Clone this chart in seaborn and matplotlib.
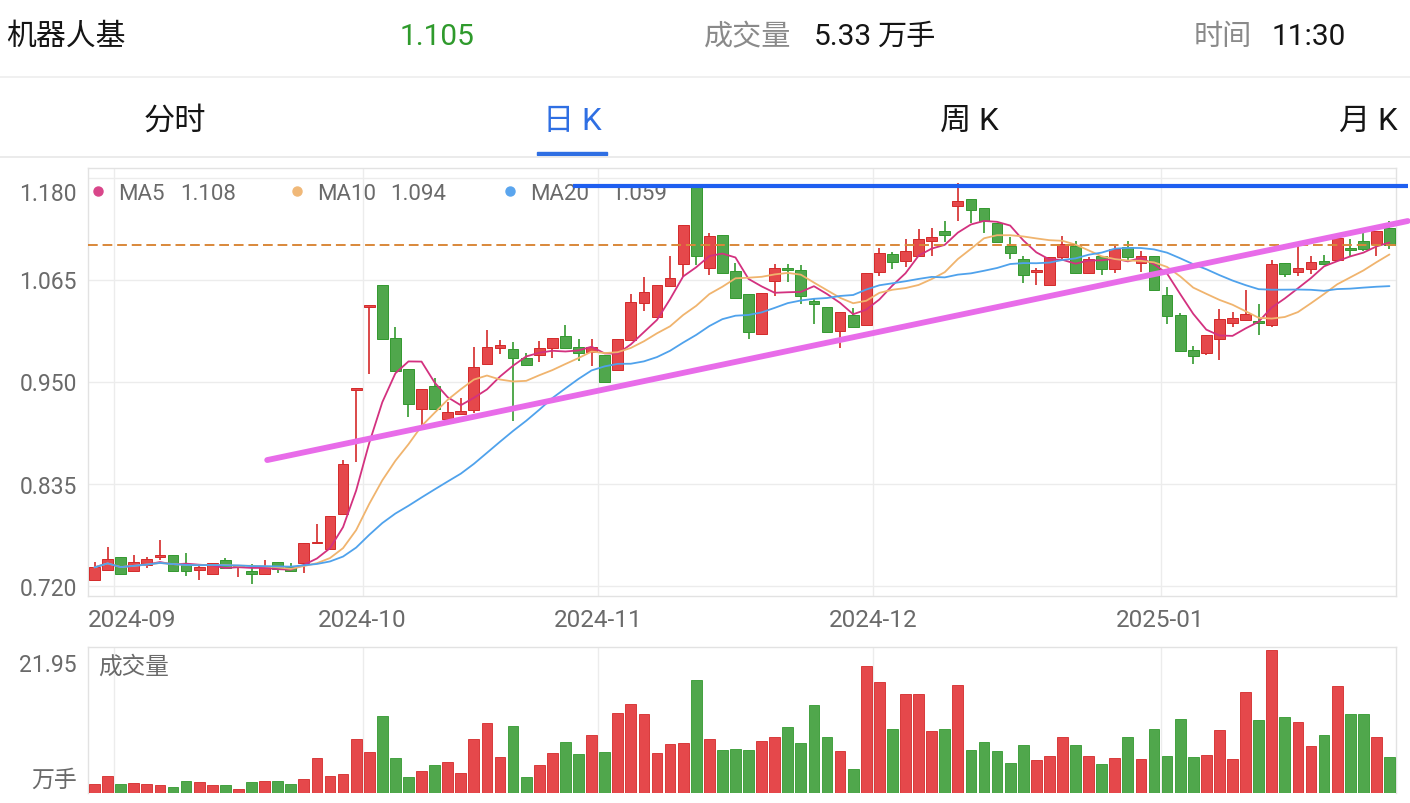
import numpy as np
import pandas as pd
import matplotlib
matplotlib.use("Agg")
import matplotlib.pyplot as plt
import seaborn as sns
from matplotlib.lines import Line2D
from matplotlib.patches import Rectangle

# ---------------- data ----------------
opens = [0.727, 0.738, 0.753, 0.737, 0.744, 0.753, 0.755, 0.744, 0.738, 0.734,
         0.749, 0.741, 0.737, 0.734, 0.747, 0.741, 0.746, 0.768, 0.762, 0.801,
         0.941, 1.035, 1.059, 1.000, 0.965, 0.920, 0.946, 0.908, 0.914, 0.918,
         0.970, 0.988, 0.987, 0.977, 0.980, 0.988, 1.002, 0.990, 0.984, 0.980,
         0.964, 0.997, 1.039, 1.023, 1.058, 1.083, 1.170, 1.078, 1.116, 1.075,
         1.049, 1.004, 1.064, 1.079, 1.076, 1.041, 1.035, 1.007, 1.026, 1.014,
         1.074, 1.094, 1.086, 1.092, 1.109, 1.120, 1.148, 1.156, 1.146, 1.129,
         1.103, 1.089, 1.074, 1.059, 1.091, 1.103, 1.073, 1.092, 1.077, 1.102,
         1.084, 1.092, 1.048, 1.025, 0.986, 0.983, 0.998, 1.017, 1.020, 1.019,
         1.014, 1.084, 1.074, 1.077, 1.086, 1.088, 1.101, 1.109, 1.106, 1.124]
highs = [0.747, 0.764, 0.753, 0.755, 0.753, 0.772, 0.755, 0.757, 0.745, 0.746,
         0.752, 0.744, 0.745, 0.749, 0.747, 0.746, 0.769, 0.790, 0.799, 0.862,
         0.943, 1.037, 1.059, 1.012, 0.965, 0.942, 0.955, 0.927, 0.932, 0.989,
         1.009, 0.997, 0.995, 0.983, 0.996, 1.000, 1.014, 0.998, 0.998, 0.980,
         0.999, 1.049, 1.068, 1.059, 1.092, 1.127, 1.170, 1.118, 1.116, 1.084,
         1.049, 1.050, 1.083, 1.083, 1.082, 1.045, 1.035, 1.029, 1.033, 1.073,
         1.101, 1.097, 1.111, 1.122, 1.124, 1.132, 1.174, 1.156, 1.146, 1.129,
         1.113, 1.092, 1.079, 1.091, 1.115, 1.109, 1.091, 1.092, 1.103, 1.109,
         1.098, 1.092, 1.057, 1.028, 0.991, 1.003, 1.032, 1.029, 1.054, 1.038,
         1.087, 1.084, 1.103, 1.092, 1.093, 1.112, 1.111, 1.118, 1.120, 1.131]
lows = [0.727, 0.738, 0.733, 0.737, 0.740, 0.749, 0.737, 0.731, 0.727, 0.734,
        0.740, 0.730, 0.722, 0.734, 0.735, 0.737, 0.735, 0.768, 0.762, 0.801,
        0.860, 0.959, 0.999, 0.962, 0.910, 0.901, 0.919, 0.908, 0.914, 0.915,
        0.970, 0.982, 0.906, 0.968, 0.972, 0.977, 0.988, 0.974, 0.968, 0.950,
        0.964, 0.997, 1.030, 1.023, 1.058, 1.068, 1.082, 1.071, 1.073, 1.045,
        0.999, 1.004, 1.047, 1.063, 1.038, 1.015, 1.006, 0.988, 1.012, 1.014,
        1.070, 1.077, 1.080, 1.092, 1.092, 1.108, 1.131, 1.129, 1.118, 1.108,
        1.089, 1.062, 1.059, 1.059, 1.089, 1.072, 1.072, 1.071, 1.073, 1.087,
        1.074, 1.054, 1.015, 0.985, 0.970, 0.980, 0.975, 1.012, 1.019, 1.003,
        1.012, 1.068, 1.069, 1.072, 1.083, 1.088, 1.092, 1.098, 1.092, 1.100]
closes = [0.741, 0.750, 0.733, 0.747, 0.750, 0.755, 0.737, 0.737, 0.741, 0.746,
          0.740, 0.742, 0.733, 0.741, 0.739, 0.737, 0.769, 0.769, 0.799, 0.858,
          0.943, 1.037, 0.999, 0.962, 0.925, 0.942, 0.919, 0.916, 0.917, 0.967,
          0.989, 0.992, 0.977, 0.969, 0.988, 1.000, 0.988, 0.983, 0.990, 0.950,
          0.999, 1.040, 1.052, 1.059, 1.067, 1.127, 1.092, 1.115, 1.073, 1.045,
          1.006, 1.050, 1.079, 1.076, 1.047, 1.038, 1.006, 1.029, 1.012, 1.073,
          1.095, 1.085, 1.098, 1.111, 1.113, 1.116, 1.154, 1.144, 1.131, 1.108,
          1.095, 1.071, 1.076, 1.091, 1.106, 1.073, 1.089, 1.077, 1.100, 1.091,
          1.092, 1.054, 1.024, 0.985, 0.979, 1.003, 1.021, 1.022, 1.027, 1.017,
          1.083, 1.072, 1.079, 1.085, 1.083, 1.112, 1.099, 1.100, 1.120, 1.105]
volumes = [1.38, 2.6, 1.38, 1.48, 1.33, 1.17, 0.92, 1.79, 1.63, 1.22,
           1.28, 0.61, 1.63, 1.79, 1.84, 1.38, 2.09, 5.3, 2.55, 2.9,
           8.3, 6.3, 11.8, 5.3, 2.4, 3.37, 4.3, 4.7, 3.1, 8.3,
           10.7, 5.56, 10.3, 2.4, 4.23, 6.17, 7.86, 6.0, 8.9, 6.3,
           12.2, 13.6, 12.1, 6.1, 7.45, 7.7, 17.3, 8.2, 6.6, 6.8,
           6.6, 7.96, 8.5, 10.15, 7.6, 13.5, 8.5, 6.4, 3.7, 19.5,
           17.0, 9.8, 15.15, 15.2, 9.5, 9.74, 16.5, 6.6, 7.86, 6.5,
           4.54, 7.4, 5.05, 5.7, 8.6, 7.4, 5.7, 4.5, 5.4, 8.6,
           5.26, 9.85, 5.7, 11.4, 5.56, 5.87, 9.64, 5.26, 15.5, 11.2,
           21.95, 11.7, 10.9, 7.2, 8.9, 16.4, 12.1, 12.1, 8.5, 5.46]
month_labels = ["2024-09", "2024-10", "2024-11", "2024-12", "2025-01"]
month_first_idx = [2, 21, 39, 60, 82]
price_levels = [0.720, 0.835, 0.950, 1.065, 1.180]
vol_max_label = "21.95"
last_price = 1.105
ma_windows = [5, 10, 20]
ma_names = ["MA5", "MA10", "MA20"]
ma_legend_values = ["1.108", "1.094", "1.059"]
resist_level = 1.1707
resist_x = [36.6, 100.4]
trend_x = [13.2, 100.4]
trend_y = [0.862, 1.1315]

# ---------------- style ----------------
sns.set_theme(style="white")
plt.rcParams["font.family"] = ["Roboto", "Noto Sans CJK SC", "DejaVu Sans"]
plt.rcParams["lines.scale_dashes"] = False

RED = "#e5484b"
RED_E = "#d42a2a"
GREEN = "#50a74c"
GREEN_E = "#33992f"
MA_COLORS = ["#d3317f", "#f0b46e", "#4fa2ec"]
DOT_COLORS = ["#d9468a", "#f0b878", "#5aa5ee"]
GRID = "#ececec"
SPINE = "#e2e2e2"
LABEL = "#6a6a6a"

W, H = 1410, 804
fig = plt.figure(figsize=(W / 100, H / 100), dpi=100)
fig.patch.set_facecolor("white")


def fx(px):
    return px / W


def fy(py):
    return 1 - py / H


# ---------------- header ----------------
HY = 37
fig.text(fx(6), fy(HY), "机器人基", fontsize=21.5, color="#151515", va="center", ha="left")
fig.text(fx(437), fy(HY), "1.105", fontsize=21.5, color="#2f9a2c", va="center", ha="center")
fig.text(fx(704), fy(HY), "成交量", fontsize=21, color="#8a8a8a", va="center", ha="left")
fig.text(fx(814), fy(HY), "5.33", fontsize=21.5, color="#151515", va="center", ha="left")
fig.text(fx(877), fy(HY), "万手", fontsize=21, color="#151515", va="center", ha="left")
fig.text(fx(1194), fy(HY), "时间", fontsize=21, color="#8a8a8a", va="center", ha="left")
fig.text(fx(1272), fy(HY), "11:30", fontsize=21.5, color="#151515", va="center", ha="left")
fig.add_artist(Line2D([0, 1], [fy(78), fy(78)], color="#eeeeee", lw=1.2))

tabs = ["分时", "日 K", "周 K", "月 K"]
tab_x = [175, 572, 969, 1368]
for t, x in zip(tabs, tab_x):
    fig.text(fx(x), fy(121), t, fontsize=22.5, va="center", ha="center",
             color="#2f6fe3" if t.startswith("日") else "#151515")
fig.add_artist(Rectangle((fx(537), fy(156)), fx(607) - fx(537), 3 / H,
                         color="#2f6fe3", transform=fig.transFigure))
fig.add_artist(Line2D([0, 1], [fy(157.5), fy(157.5)], color="#e8e8e8", lw=1.2))

# ---------------- main price axes ----------------
ax = fig.add_axes([fx(88), fy(597), fx(1396) - fx(88), (597 - 169) / H])
n = len(closes)
idx = np.arange(n)
o = np.array(opens)
c = np.array(closes)
hi = np.array(highs)
lo = np.array(lows)
up = c >= o
fill = np.where(up, RED, GREEN)
edge = np.where(up, RED_E, GREEN_E)

ppx = 887.0  # px per price unit
ax.set_ylim(0.720 - 10 / ppx, 1.180 + 10 / ppx)
ax.set_xlim(-0.5, n - 0.5)
bounds = [i - 0.5 for i in month_first_idx]
ax.set_xticks(bounds)
ax.set_yticks(price_levels)
ax.grid(True, color=GRID, lw=1, zorder=0)
ax.tick_params(length=0, labelleft=False, labelbottom=False)
for s in ax.spines.values():
    s.set_color(SPINE)
    s.set_linewidth(1)

ax.vlines(idx, lo, hi, colors=edge, lw=1.2, zorder=2)
body_h = np.maximum(np.abs(c - o), 0.0018)
body_b = np.minimum(o, c)
ax.bar(idx, body_h, bottom=body_b, width=0.82, color=fill, edgecolor=edge,
       linewidth=0.7, zorder=3)

cs = pd.Series(c)
for w, col in zip(ma_windows, MA_COLORS):
    ma = cs.rolling(w, min_periods=1).mean()
    sns.lineplot(x=idx, y=ma.values, color=col, lw=1.3, ax=ax, zorder=4)
ax.set_xlabel("")
ax.set_ylabel("")

# current price dashed line
ax.axhline(last_price, color="#d9883a", lw=1.4, dashes=(7, 3.5), zorder=5)
# resistance line and trend line
ax.plot(resist_x, [resist_level, resist_level], color="#1f5ff0", lw=3.0,
        clip_on=False, zorder=7, solid_capstyle="butt")
ax.plot(trend_x, trend_y, color="#e86ce9", lw=4.2, clip_on=False, zorder=6,
        solid_capstyle="round")

# y labels
for lv in price_levels:
    yy = (lv if lv < 1.17 else lv - 14 / ppx) - 2 / ppx
    ax.text(-11 / 1308, yy, f"{lv:.3f}", transform=ax.get_yaxis_transform(),
            ha="right", va="center", fontsize=16.5, color=LABEL)
# x labels
for lab, b in zip(month_labels, bounds):
    if b < 5:
        ax.text(0, -24 / 428, lab, transform=ax.transAxes, ha="left", va="center",
                fontsize=17.5, color=LABEL)
    else:
        ax.text(b, -24 / 428, lab, transform=ax.get_xaxis_transform(), ha="center",
                va="center", fontsize=17.5, color=LABEL)

# legend
dot_x = [98, 297, 510]
val_x = [180, 390, 611]
for name, val, dx, vx, dc in zip(ma_names, ma_legend_values, dot_x, val_x, DOT_COLORS):
    ax.plot([(dx - 88) / 1308], [(597 - 192) / 428], marker="o", ms=6.5, color=dc,
            transform=ax.transAxes, clip_on=False, zorder=1)
    ax.text((dx + 20 - 88) / 1308, (597 - 194) / 428, name, transform=ax.transAxes,
            ha="left", va="center", fontsize=16, color=LABEL, zorder=1)
    ax.text((vx - 88) / 1308, (597 - 194) / 428, val,
            transform=ax.transAxes, ha="left", va="center", fontsize=16,
            color=LABEL, zorder=1)

# ---------------- volume axes ----------------
axv = fig.add_axes([fx(88), fy(794), fx(1396) - fx(88), (794 - 648) / H])
df = pd.DataFrame({"idx": idx, "vol": volumes, "dir": np.where(up, "up", "down")})
sns.barplot(data=df, x="idx", y="vol", hue="dir", palette={"up": RED, "down": GREEN},
            dodge=False, width=0.82, native_scale=True, legend=False, errorbar=None,
            saturation=1, ax=axv, zorder=3)
for p in axv.patches:
    fc = p.get_facecolor()
    p.set_edgecolor(RED_E if fc[1] < 0.5 else GREEN_E)
    p.set_linewidth(0.6)
axv.set_xlim(-0.5, n - 0.5)
axv.set_ylim(0, (794 - 648) / 6.53)
axv.set_xticks(bounds)
axv.set_yticks([])
axv.grid(True, axis="x", color=GRID, lw=1, zorder=0)
axv.tick_params(length=0, labelleft=False, labelbottom=False)
axv.set_xlabel("")
axv.set_ylabel("")
for k, s in axv.spines.items():
    s.set_color(SPINE)
    s.set_linewidth(1)
axv.spines["bottom"].set_visible(False)

fig.text(fx(77), fy(665), vol_max_label, ha="right", va="center", fontsize=16.5, color=LABEL)
fig.text(fx(77), fy(780), "万手", ha="right", va="center", fontsize=16.5, color=LABEL)
axv.text(10 / 1308, 1 - 19 / 146, "成交量", transform=axv.transAxes, ha="left",
         va="center", fontsize=17, color=LABEL)

fig.savefig("out.png", dpi=100, facecolor="white")
